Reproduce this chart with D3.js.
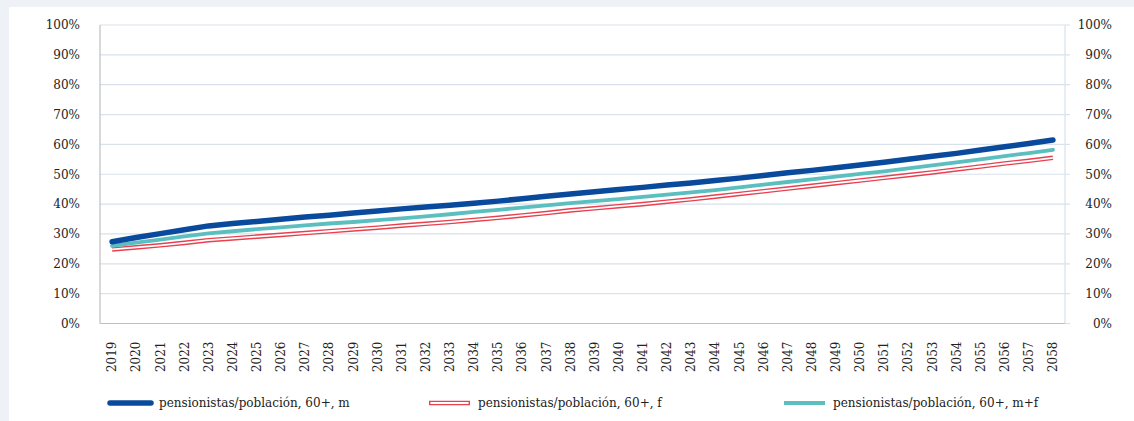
<!DOCTYPE html>
<html><head><meta charset="utf-8">
<script src="https://cdn.jsdelivr.net/npm/d3@7"></script>
<style>
html,body{margin:0;padding:0;background:#eef2f6;}
svg{display:block;}
</style></head>
<body>
<svg id="chart" width="1134" height="421"></svg>
<script>
const years = d3.range(2019, 2059).map(String);
const seriesM = [27.4,28.8,30.1,31.4,32.7,33.5,34.2,34.9,35.7,36.3,37.0,37.7,38.4,39.0,39.6,40.3,41.0,41.8,42.6,43.4,44.1,44.9,45.6,46.4,47.1,47.9,48.7,49.6,50.5,51.3,52.2,53.1,54.0,55.0,56.0,57.0,58.1,59.2,60.3,61.5];
const seriesF = [24.8,25.5,26.2,27.0,27.9,28.5,29.1,29.7,30.3,30.9,31.5,32.1,32.8,33.4,34.0,34.7,35.4,36.2,37.0,37.9,38.6,39.3,40.0,40.8,41.6,42.5,43.4,44.3,45.2,46.1,47.0,47.9,48.8,49.7,50.6,51.6,52.6,53.6,54.5,55.5];
const seriesMF = [26.0,27.1,28.1,29.2,30.2,30.9,31.6,32.2,32.9,33.5,34.0,34.6,35.2,35.9,36.6,37.4,38.1,38.8,39.6,40.3,41.0,41.7,42.4,43.2,43.9,44.7,45.6,46.5,47.4,48.3,49.2,50.1,51.0,52.0,53.0,54.0,55.0,56.1,57.1,58.2];
const yTicks = [0,10,20,30,40,50,60,70,80,90,100];
const seriesNames = ["pensionistas/población, 60+, m","pensionistas/población, 60+, f","pensionistas/población, 60+, m+f"];

const svg = d3.select("#chart");
const font = "'DejaVu Serif', serif";
svg.append("rect").attr("x",9).attr("y",7).attr("width",1125).attr("height",414).attr("fill","#ffffff");

const L=100, R=1065, T=25, B=323.5;
const x = d3.scaleBand().domain(years).range([L,R]);
const y = d3.scaleLinear().domain([0,100]).range([B,T]);

// gridlines
svg.append("g").selectAll("line").data(yTicks.filter(d=>d>0)).join("line")
  .attr("x1",L).attr("x2",R+5).attr("y1",d=>y(d)).attr("y2",d=>y(d))
  .attr("stroke","#d9e1ea").attr("stroke-width",1.2);
// right axis
svg.append("line").attr("x1",R).attr("x2",R).attr("y1",T).attr("y2",B).attr("stroke","#d9e1ea").attr("stroke-width",1.2);
svg.append("line").attr("x1",R).attr("x2",R+5).attr("y1",B).attr("y2",B).attr("stroke","#d9e1ea").attr("stroke-width",1.2);
// left and bottom axis
svg.append("line").attr("x1",L).attr("x2",L).attr("y1",T).attr("y2",B).attr("stroke","#bfbfbf").attr("stroke-width",1.2);
svg.append("line").attr("x1",L).attr("x2",R).attr("y1",B).attr("y2",B).attr("stroke","#bfbfbf").attr("stroke-width",1.2);

// left labels
const fmt = d=>d+"%";
const leftAxis = d3.axisLeft(y).tickValues(yTicks).tickFormat(fmt).tickSize(0).tickPadding(20);
const gl = svg.append("g").attr("transform",`translate(${L},0)`).call(leftAxis);
gl.select(".domain").remove();
gl.selectAll("text").attr("font-family",font).attr("font-size",12).attr("fill","#222");
const rightAxis = d3.axisRight(y).tickValues(yTicks).tickFormat(fmt).tickSize(0).tickPadding(47);
const gr = svg.append("g").attr("transform",`translate(${R},0)`).call(rightAxis);
gr.select(".domain").remove();
gr.selectAll("text").attr("font-family",font).attr("font-size",12).attr("fill","#222").attr("text-anchor","end");

// x labels
const xAxis = d3.axisBottom(x).tickSize(0);
const gx = svg.append("g").attr("transform",`translate(0,${B})`).call(xAxis);
gx.select(".domain").remove();
gx.selectAll("text").attr("font-family",font).attr("font-size",12).attr("fill","#222")
  .attr("text-anchor","end").attr("dy","0.35em").attr("dx",0)
  .attr("transform","translate(0,10) rotate(-90)").attr("y",0).attr("x",-8);

const line = d3.line().x((d,i)=>x(years[i])+x.bandwidth()/2).y(d=>y(d));
const g = svg.append("g");
g.append("path").datum(seriesF).attr("d",line).attr("fill","none").attr("stroke","#e8404f").attr("stroke-width",4.6).attr("stroke-linecap","butt");
g.append("path").datum(seriesF).attr("d",line).attr("fill","none").attr("stroke","#ffffff").attr("stroke-width",1.8);
g.append("path").datum(seriesMF).attr("d",line).attr("fill","none").attr("stroke","#5bbfbf").attr("stroke-width",3.8).attr("stroke-linecap","round");
g.append("path").datum(seriesM).attr("d",line).attr("fill","none").attr("stroke","#0a4a9c").attr("stroke-width",5.5).attr("stroke-linecap","round");

// legend
const legX = [110,429,784];
const leg = svg.append("g").selectAll("g").data(seriesNames).join("g").attr("transform",(d,i)=>`translate(${legX[i]},403)`);
leg.each(function(d,i){
  const s=d3.select(this);
  if(i===0) s.append("line").attr("x1",0).attr("x2",41).attr("stroke","#0a4a9c").attr("stroke-width",5.5).attr("stroke-linecap","round");
  if(i===1){ s.append("line").attr("x1",0).attr("x2",41).attr("stroke","#e8404f").attr("stroke-width",4.6);
             s.append("line").attr("x1",1.4).attr("x2",39.6).attr("stroke","#fff").attr("stroke-width",1.8);}
  if(i===2) s.append("line").attr("x1",0).attr("x2",41).attr("stroke","#5bbfbf").attr("stroke-width",3.8);
  s.append("text").attr("x",49).attr("y",0).attr("dy","0.35em").attr("font-family",font).attr("font-size",12).attr("fill","#222").text(d);
});
</script>
</body></html>
